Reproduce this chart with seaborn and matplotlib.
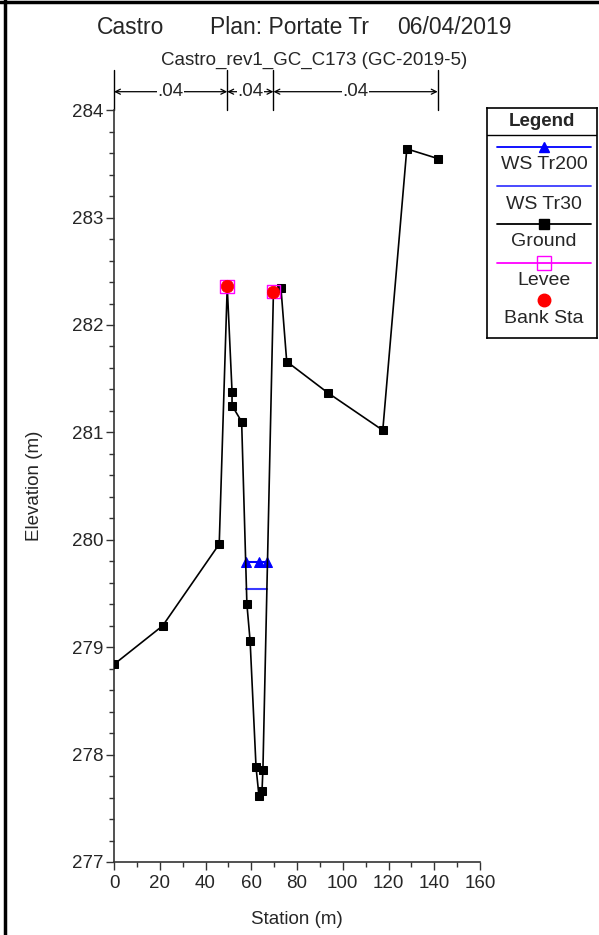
import matplotlib
matplotlib.use('Agg')
import matplotlib.pyplot as plt
import seaborn as sns
from matplotlib.lines import Line2D
from matplotlib.ticker import MultipleLocator

# ---------------- data ----------------
ground_sta = [0, 21.3, 46.0, 49.5, 51.6, 51.6, 55.8, 58.1, 59.5, 62.1, 63.4, 64.7, 65.1,
              69.7, 73.0, 75.5, 93.4, 117.5, 128.0, 141.5]
ground_elev = [278.84, 279.20, 279.96, 282.36, 281.38, 281.25, 281.10, 279.40, 279.06, 277.88,
               277.61, 277.66, 277.86, 282.31, 282.34, 281.66, 281.37, 281.02, 283.64, 283.55]
bank_sta = [49.5, 69.7]
bank_elev = [282.36, 282.31]
levee_sta = [49.5, 69.7]
levee_elev = [282.36, 282.31]
ws200_sta = [57.6, 63.6, 67.1]
ws200_elev = [279.79, 279.79, 279.79]
ws30_sta = [57.9, 66.9]
ws30_elev = [279.54, 279.54]
mann_bounds = [0, 49.5, 69.7, 141.5]
mann_n = ['.04', '.04', '.04']
x_ticks = [0, 20, 40, 60, 80, 100, 120, 140, 160]
y_ticks = [277, 278, 279, 280, 281, 282, 283, 284]
title_parts = ['Castro', 'Plan: Portate Tr', '06/04/2019']
subtitle = 'Castro_rev1_GC_C173 (GC-2019-5)'
legend_labels = ['WS Tr200', 'WS Tr30', 'Ground', 'Levee', 'Bank Sta']

# ---------------- style ----------------
sns.set_style('ticks')
plt.rcParams['font.family'] = ['Liberation Sans', 'DejaVu Sans']

W, H = 599, 935
fig = plt.figure(figsize=(W / 100, H / 100), dpi=100)
fig.patch.set_facecolor('white')

x0, x1, ytop, ybot = 114, 480, 110.2, 862
ax = fig.add_axes([x0 / W, 1 - ybot / H, (x1 - x0) / W, (ybot - ytop) / H])
ax.set_facecolor('white')

# Water surfaces
sns.lineplot(x=ws30_sta, y=ws30_elev, sort=False, estimator=None, color='#3a3aff', lw=1.5, ax=ax, zorder=3)
sns.lineplot(x=ws200_sta, y=ws200_elev, sort=False, estimator=None, color='#0000ff', lw=1.5,
             marker='^', markersize=6.5, markeredgecolor='#0000ff', ax=ax, zorder=3)
# Ground
sns.lineplot(x=ground_sta, y=ground_elev, sort=False, estimator=None, color='black', lw=1.2,
             marker='s', markersize=6, markeredgecolor='black', ax=ax, zorder=4)
# Levee
sns.scatterplot(x=levee_sta, y=levee_elev, marker='s', s=95, facecolor='none',
                edgecolor='#ff00ff', linewidth=1.0, ax=ax, zorder=5)
# Bank stations
sns.scatterplot(x=bank_sta, y=bank_elev, marker='o', s=80, color='#ff0000',
                edgecolor='#ff0000', linewidth=0.5, ax=ax, zorder=6)

ax.set_xlim(0, 160)
ax.set_ylim(277, 284)
ax.set_xticks(x_ticks)
ax.set_yticks(y_ticks)
ax.xaxis.set_minor_locator(MultipleLocator(10))
ax.yaxis.set_minor_locator(MultipleLocator(0.2))
ax.tick_params(which='major', direction='out', length=6, width=1, labelsize=13.5, color='#333333')
ax.tick_params(axis='x', which='major', pad=3.5)
ax.tick_params(axis='y', which='major', pad=1.5)
ax.tick_params(which='minor', direction='out', length=3.5, width=1, color='#333333')
for s in ['top', 'right']:
    ax.spines[s].set_visible(False)
for s in ['left', 'bottom']:
    ax.spines[s].set_color('#333333')
    ax.spines[s].set_linewidth(1.2)

ax.set_xlabel('Station (m)', fontsize=13.5)
ax.set_ylabel('Elevation (m)', fontsize=13.5)
ax.xaxis.set_label_coords(0.5, -0.065)
ax.yaxis.set_label_coords(-0.195, 0.5)

# Manning's n annotations above plot
tr = ax.get_xaxis_transform()
y_arrow = (ybot - 91.7) / (ybot - ytop)
y_vtop = (ybot - 70) / (ybot - ytop)
for b in mann_bounds:
    ax.add_line(Line2D([b, b], [1.0, y_vtop], transform=tr, color='black', lw=1.0, clip_on=False))
for i, n in enumerate(mann_n):
    a, b = mann_bounds[i], mann_bounds[i + 1]
    ax.annotate('', xy=(b, y_arrow), xytext=(a, y_arrow), xycoords=tr, textcoords=tr,
                arrowprops=dict(arrowstyle='<->', lw=0.9, color='black', shrinkA=0, shrinkB=0,
                                mutation_scale=9), annotation_clip=False)
    ax.text((a + b) / 2, y_arrow, n, transform=tr, ha='center', va='center', fontsize=13.5,
            bbox=dict(facecolor='white', edgecolor='none', pad=0.6), clip_on=False)

# Titles
def py(p):
    return 1 - p / H
fig.text(97 / W, py(27), title_parts[0], ha='left', va='center', fontsize=16.5)
fig.text(210 / W, py(27), title_parts[1], ha='left', va='center', fontsize=16.5)
fig.text(512 / W, py(27), title_parts[2], ha='right', va='center', fontsize=16.5)
fig.text(314 / W, py(60), subtitle, ha='center', va='center', fontsize=13.5)

# Legend box (HEC-RAS style)
lx0, lx1, ly0, ly1 = 487, 597, 108, 338
lax = fig.add_axes([lx0 / W, 1 - ly1 / H, (lx1 - lx0) / W, (ly1 - ly0) / H])
lax.set_xlim(lx0, lx1)
lax.set_ylim(ly1, ly0)
lax.set_xticks([])
lax.set_yticks([])
for s in lax.spines.values():
    s.set_color('black')
    s.set_linewidth(1.2)
lax.set_facecolor('white')
lax.text((lx0 + lx1) / 2, 121.5, 'Legend', ha='center', va='center', fontsize=13.5, fontweight='bold')
lax.plot([lx0, lx1], [135, 135], color='black', lw=1.0)
entries = [
    dict(ly=147.3, ty=164, color='#0000ff', marker='^', mfc='#0000ff', ms=6.5),
    dict(ly=186, ty=204, color='#3a3aff', marker=None, mfc='none', ms=0),
    dict(ly=224, ty=241, color='black', marker='s', mfc='black', ms=6.5),
    dict(ly=262.7, ty=280, color='#ff00ff', marker='s', mfc='none', ms=9.5),
    dict(ly=300, ty=318, color=None, marker='o', mfc='#ff0000', ms=9),
]
for lab, e in zip(legend_labels, entries):
    if e['color'] is not None:
        lax.plot([496.7, 590.7], [e['ly'], e['ly']], color=e['color'], lw=1.3)
    if e['marker'] is not None:
        mec = e['color'] if e['color'] is not None else '#ff0000'
        lax.plot([544], [e['ly']], marker=e['marker'], ms=e['ms'], mfc=e['mfc'], mec=mec,
                 mew=1.0, linestyle='none')
    lax.text(544, e['ty'], lab, ha='center', va='center', fontsize=14)

# Figure frame lines (top and left)
fig.add_artist(Line2D([5 / W, 5 / W], [0, 1], transform=fig.transFigure, color='black', lw=2.5))
fig.add_artist(Line2D([0, 1], [1 - 2 / H, 1 - 2 / H], transform=fig.transFigure, color='black', lw=2.5))

fig.savefig('out.png', dpi=100, facecolor='white')
